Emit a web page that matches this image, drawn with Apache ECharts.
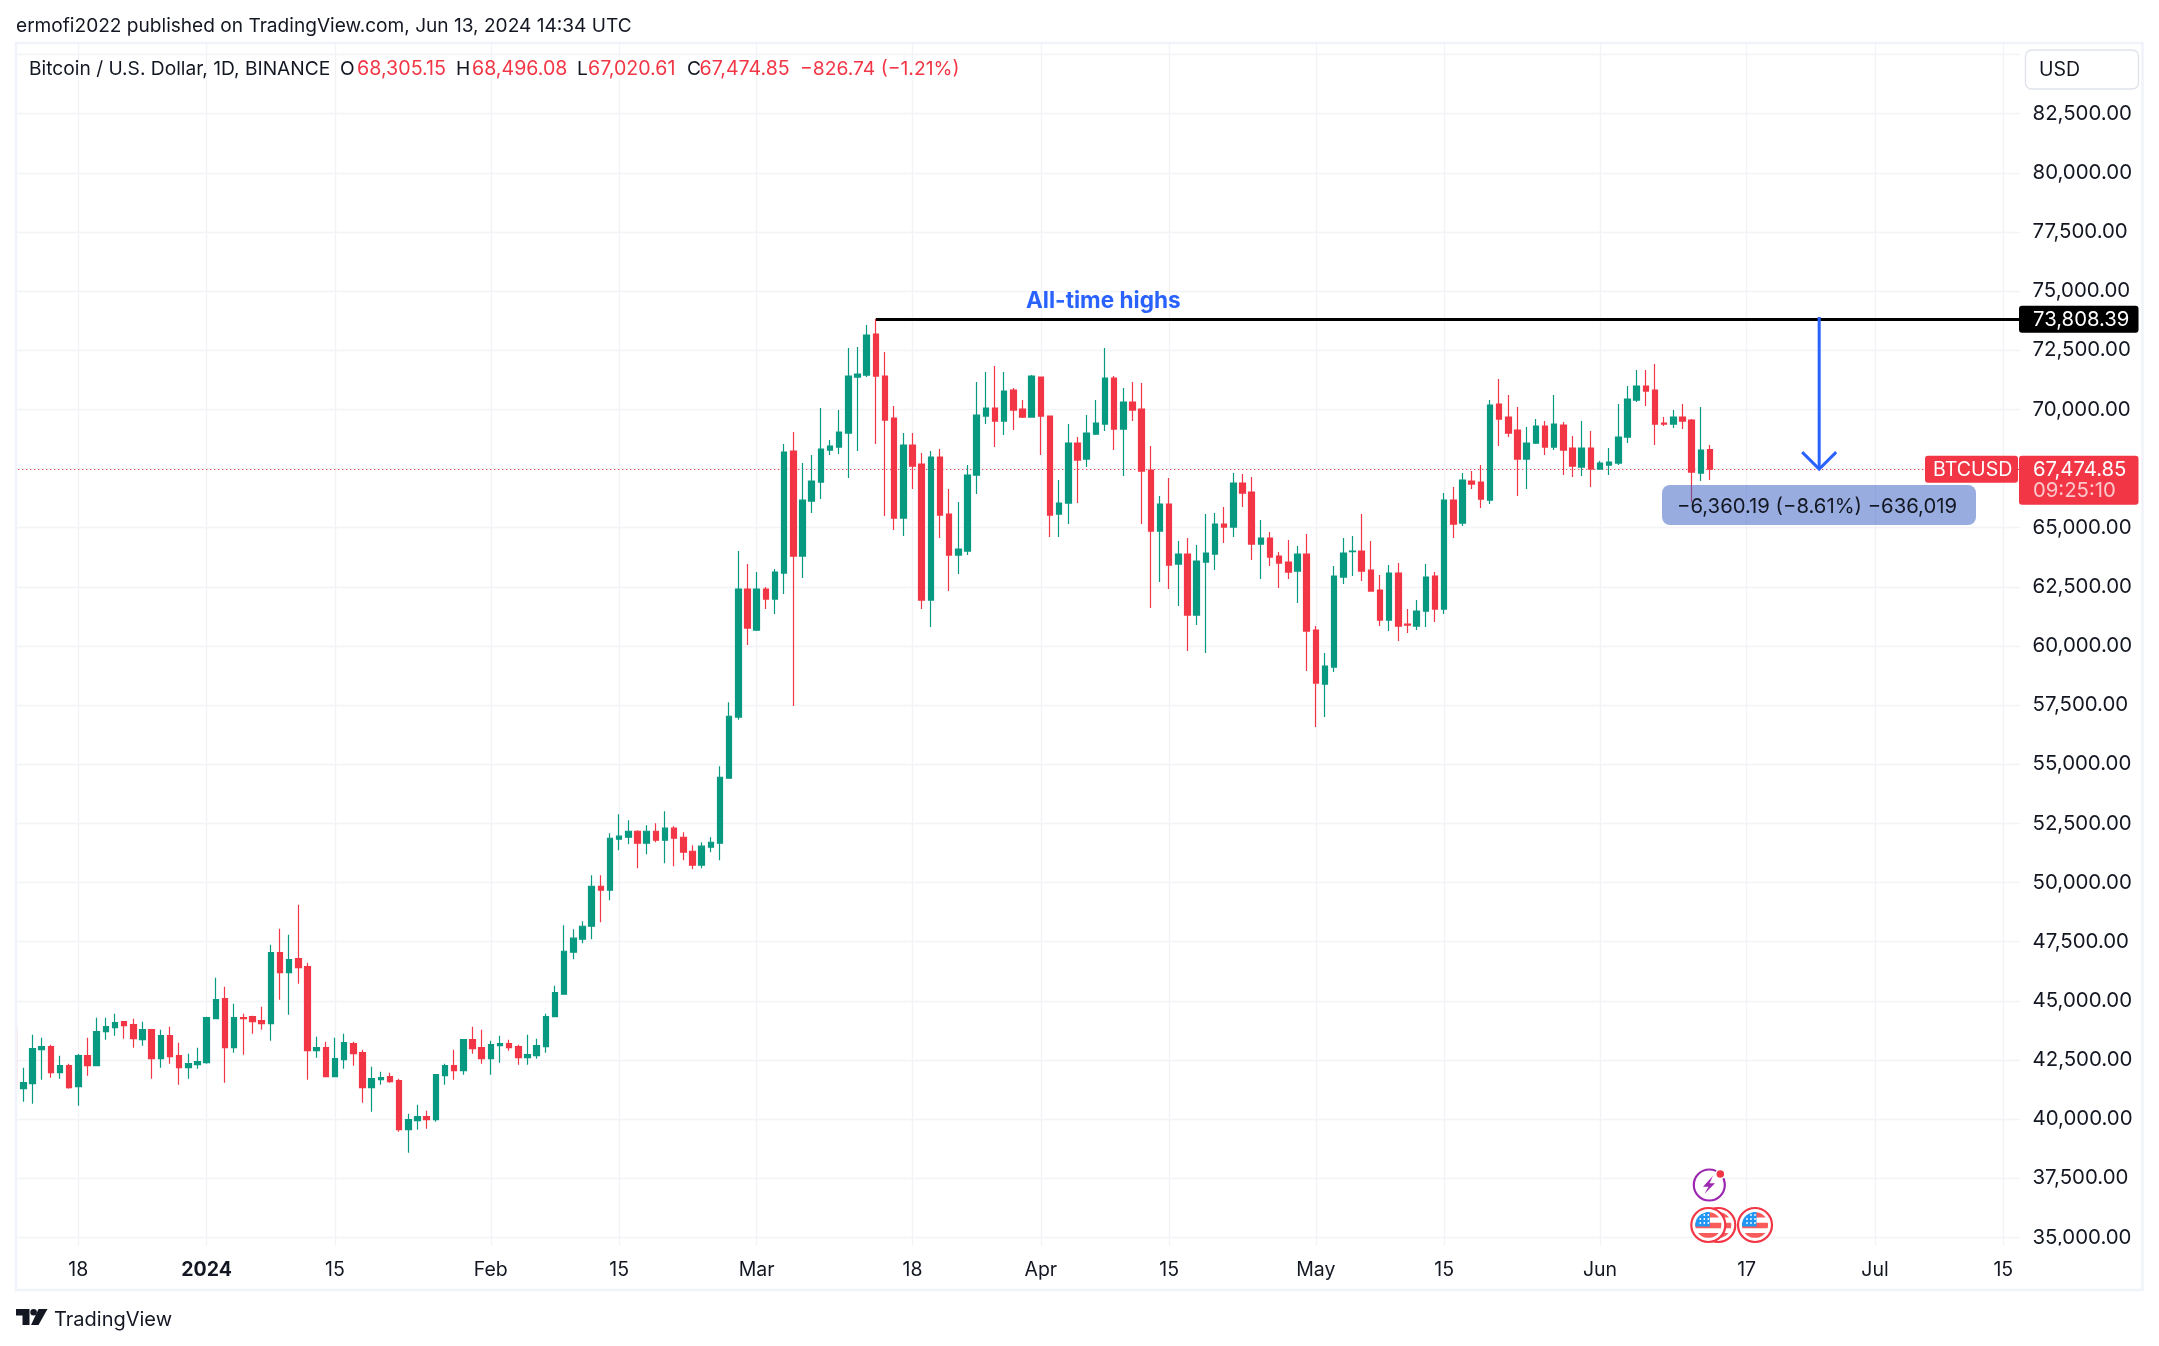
<!DOCTYPE html>
<html><head><meta charset="utf-8">
<script src="https://cdn.jsdelivr.net/npm/echarts@6/dist/echarts.min.js"></script>
<style>html,body{margin:0;padding:0;background:#fff}#c{width:2159px;height:1346px}</style></head>
<body><div id="c"></div>
<script>
const firstDay = '2023-12-11';
const dayCount = 220;
const opens = [
 43867,41288,41500,42937,43064,41965,42260,41373,42683,42260,43698,43867,44120,43994,43359,43782,42556,43529,42683,42176,42303,
 42387,44247,45093,43021,44289,44332,44163,44036,47037,46192,46783,46445,42895,43021,41796,42514,43190,42810,41331,41669,41796,41626,39555,39936,40105,39978,41838,42260,42049,43359,43021,
 42556,43106,43190,43064,42599,42683,43064,44332,45280,47055,47605,48154,49845,49676,51832,51916,52170,51663,52170,51789,52297,51916,51324,50733,51494,51663,54410,56995,62405,
 60672,62405,61983,63082,68239,63800,66125,66928,68281,68408,69000,71367,71451,73184,71409,69634,65407,68492,67689,61940,67985,65576,63843,64012,67224,69718,70056,69507,70817,70014,69676,
 71367,69718,65576,66041,68577,67900,68957,69380,71324,69169,70310,70014,67436,64857,65998,63462,63885,61307,63547,63885,65153,65026,66886,66506,64308,64561,63800,63547,63166,63885,
 60672,58390,59108,62913,63984,64012,63209,62363,61095,63082,60926,60842,61476,62955,61560,66168,65195,66971,66928,66168,70225,69676,69126,67900,68577,69296,68408,69338,68366,67562,68366,
 67478,67647,67731,68830,70395,70986,70817,69422,69380,69676,69549,67309,68305.15];
const highs = [
 43900,42176,43571,43444,43148,42683,42345,42768,43444,44289,44289,44459,44130,44247,44120,43790,43782,43909,43233,42768,43021,
 44332,45980,45600,44881,44459,44374,44754,47375,48051,47798,49066,46614,43486,43275,43444,43613,43275,42937,42218,42007,41965,41711,40232,40612,40358,41880,42345,42937,43359,43909,43782,
 43317,43529,43359,43148,43571,43402,44459,45642,48196,48027,48366,50310,50310,52085,52888,52635,52212,52424,52508,53015,52381,52128,51578,51705,51916,54917,57623,64012,63462,
 63124,62490,63251,68535,69042,67732,68070,70056,68704,69972,72593,72635,73565,73818,72424,70141,69000,69000,68154,68239,68323,66632,66083,67647,71155,71578,71832,71578,70902,70395,71451,
 71370,69730,67013,69380,68830,69760,70395,72593,71409,70902,71155,71113,68450,66337,67097,64434,64561,64265,65576,65618,65872,67309,67267,67140,65322,64815,63970,64477,64223,64730,
 60842,59700,63378,64561,64646,65576,64434,62997,63420,63504,61560,61940,63462,63124,66463,66717,67309,67393,67647,70395,71282,70606,70099,69253,69591,69507,70606,69465,68873,69507,69084,
 67816,68366,70225,70986,71663,71663,71916,69676,69972,70225,69591,70099,68496.08];
const lows = [
 41280,40739,40654,41669,41753,41711,41288,40570,41838,42240,43359,43529,43402,43021,43106,41711,42176,42345,41457,41711,42134,
 42345,44240,41542,42810,42725,43613,43782,43317,45050,44416,45727,41669,42599,41780,41780,42134,42260,40696,40316,41457,41542,39471,38583,39555,39597,39893,41457,41669,41880,42768,42345,
 41880,42387,42895,42303,42303,42556,42810,44320,45270,46759,47436,47605,48323,49253,51367,51620,50606,51198,51705,50817,50690,50944,50564,50606,51282,50944,54400,56880,60038,
 60630,61560,61349,62194,57460,62870,65618,66210,68070,68112,67097,68239,71367,68535,65491,64899,64646,66632,61560,60799,64561,62321,63040,63843,66421,69380,68408,68915,69126,69634,69670,
 68070,64603,64603,65153,66041,67562,68915,69084,68281,67182,69507,65153,61602,62701,62405,61687,59785,60884,59700,63209,64350,64603,65872,63631,62828,63378,62448,62828,61814,58939,
 56572,56995,58897,62617,62955,62744,62300,60842,60630,60207,60546,60672,60799,61011,61349,64561,65069,66632,65829,65998,68450,68830,66337,66632,68535,68070,68281,67224,67140,67182,66717,
 67470,67224,67647,68577,70310,70141,68492,69296,69211,69169,66083,66971,67020.61];
const closes = [
 41302,41542,42979,43064,41965,42260,41331,42683,42260,43698,43909,44078,43951,43402,43782,42556,43529,42641,42176,42345,42430,
 44289,45050,43021,44289,44247,44120,44036,47037,46192,46741,46403,42895,43021,41796,42556,43233,42768,41331,41711,41753,41584,39555,39978,40105,39978,41880,42260,42049,43359,42979,42556,
 43148,43190,43021,42599,42725,43106,44332,45346,47097,47647,48154,49845,49676,51874,51959,52170,51663,52170,51789,52297,51874,51282,50733,51536,51705,54452,57031,62405,60757,
 62405,61983,63124,68196,63800,66168,66971,68323,68450,69042,71409,71494,73142,71409,69549,65407,68492,67605,61940,67985,65533,63843,64096,67224,69760,70056,69507,70775,69972,69676,71409,
 69718,65533,66041,68577,67858,69000,69422,71324,69169,70310,69972,67393,64857,65998,63420,63885,61307,63589,63927,65153,65026,66886,66463,64308,64561,63758,63504,63124,63885,60630,
 58432,59151,62955,63927,64012,63166,62321,61095,63082,60842,60884,61476,62913,61560,66168,65153,67013,66844,66210,70183,69591,69000,67900,68577,69296,68408,69380,68281,67605,68366,67478,
 67731,67774,68830,70437,70986,70775,69380,69380,69676,69507,67351,68281,67474.85];
const tickDates = ['2023-12-18','2024-01-01','2024-01-15','2024-02-01','2024-02-15','2024-03-01','2024-03-18','2024-04-01','2024-04-15','2024-05-01','2024-05-15','2024-06-01','2024-06-17','2024-07-01','2024-07-15'];
const tickLabels = ['18','2024','15','Feb','15','Mar','18','Apr','15','May','15','Jun','17','Jul','15'];
const athPrice = 73808.39, lastPrice = 67474.85;
const athDate = '2024-03-14', arrowDate = '2024-06-25', arrowTopPrice = 73907;
const hiddenPriceLabels = [32500, 67500, 85000, 87500];

const UP='#089981', DOWN='#F23645', INK='#131722', GRID='#f2f3f7', BLUE='#2962FF', FONT='Inter';
const categories=[];
{ const t0=Date.UTC(2023,11,11); for(let i=0;i<dayCount;i++) categories.push(new Date(t0+i*864e5).toISOString().slice(0,10)); }
const candleData = opens.map((o,i)=>[o,closes[i],lows[i],highs[i]]);
const tickLabelOf = Object.fromEntries(tickDates.map((d,i)=>[d,tickLabels[i]]));
const isTick = (i,v)=> tickLabelOf[v]!==undefined;
const fmt = v=>v.toLocaleString('en-US',{minimumFractionDigits:2,maximumFractionDigits:2});

const chart = echarts.init(document.getElementById('c'),null,{renderer:'canvas'});
chart.setOption({
  animation:false, backgroundColor:'#fff',
  textStyle:{fontFamily:FONT,color:INK},
  grid:{left:9.53,width:2016.7,top:-4.54,height:1301.08,containLabel:false,outerBoundsMode:'none'},
  xAxis:[
   {type:'category',data:categories,boundaryGap:true,axisLine:{show:false},axisTick:{show:false},axisLabel:{show:false},
    splitLine:{show:true,alignWithLabel:true,interval:isTick,lineStyle:{color:GRID,width:1.4}},z:0},
   {type:'category',data:categories,boundaryGap:true,position:'bottom',offset:-51.5,z:10,axisLine:{show:false},axisTick:{show:false},splitLine:{show:false},
    axisLabel:{show:true,interval:isTick,margin:15.2,fontSize:19.5,fontFamily:FONT,color:INK,hideOverlap:false,
      formatter:v=>{const s=tickLabelOf[v]; if(s===undefined) return ''; return s==='2024'?'{b|'+s+'}':s;},
      rich:{b:{fontWeight:'bold',fontSize:19.5,fontFamily:FONT,color:INK}}}}
  ],
  yAxis:{type:'value',position:'right',min:32500,max:87500,interval:2500,
    axisLine:{show:false},axisTick:{show:false},
    splitLine:{show:true,lineStyle:{color:GRID,width:1.4}},
    axisLabel:{margin:6.3,fontSize:20.4,fontFamily:FONT,color:INK,formatter:v=>hiddenPriceLabels.includes(v)?'':fmt(v)}},
  series:[{
    type:'candlestick',name:'BTCUSD',data:candleData,xAxisIndex:0,yAxisIndex:0,barWidth:6,z:2,
    itemStyle:{color:UP,color0:DOWN,borderColor:UP,borderColor0:DOWN,borderWidth:1.2},
    markLine:{silent:true,z:1,symbol:'none',label:{show:false},animation:false,
      data:[
        [{coord:[athDate,athPrice],lineStyle:{color:'#000',width:3,type:'solid'}},{coord:[categories[dayCount-1],athPrice]}],
        [{coord:[categories[0],lastPrice],lineStyle:{color:DOWN,width:1.2,type:[1.2,2.8]}},{coord:[categories[dayCount-1],lastPrice]}]
      ]}
  }]
});

function T(x,y,text,o={}){return {type:'text',z:o.z||20,silent:true,style:{x,y,text,fill:o.fill||INK,font:(o.weight?o.weight+' ':'')+(o.size||20.3)+'px '+FONT,align:o.align||'left',verticalAlign:'middle'}};}
function R(x,y,w,h,fill,r,o={}){return {type:'rect',z:o.z||15,silent:true,shape:{x,y,width:w,height:h,r:r||0},style:{fill,stroke:o.stroke,lineWidth:o.lw}};}
function C(cx,cy,r,fill,stroke,lw,z){return {type:'circle',z:z||18,silent:true,shape:{cx,cy,r},style:{fill,stroke,lineWidth:lw}};}
function G(points,fill,z){return {type:'polygon',z:z||19,silent:true,shape:{points},style:{fill}};}
function stripe(cx,cy,r,y1,y2,xmin){
  const xa=y=>Math.sqrt(Math.max(0,r*r-y*y));
  const pts=[]; const n=8;
  for(let i=0;i<=n;i++){const y=y1+(y2-y1)*i/n; pts.push([cx+xa(y),cy+y]);}
  for(let i=n;i>=0;i--){const y=y1+(y2-y1)*i/n; pts.push([cx+(xmin!==undefined?Math.max(-xa(y),xmin):-xa(y)),cy+y]);}
  return pts;
}
function flag(cx,cy,z){
  const r=13, out=[C(cx,cy,17,'#fff',DOWN,2.2,z)];
  out.push(G(stripe(cx,cy,r,-12.5,-7.5,0),'#F95A5A',z+1));
  out.push(G(stripe(cx,cy,r,-2.2,3.2),'#F95A5A',z+1));
  out.push(G(stripe(cx,cy,r,8,12.8),'#F95A5A',z+1));
  out.push(G(stripe(cx,cy,r,-12.9,1.5).map(p=>[Math.min(p[0],cx+1.5),p[1]]),'#2196F3',z+2));
  for(const [dx,dy] of [[-8,-2],[-4,-2],[0,-2],[-8,-6],[-4,-6],[0,-6],[-4,-10],[0,-10]])
    out.push(C(cx+dx,cy+dy,0.9,'#fff',null,0,z+3));
  return out;
}

const px = (d,v)=>chart.convertToPixel({xAxisIndex:0,yAxisIndex:0},[d,v]);
const a0 = px(arrowDate,arrowTopPrice), a1 = px(arrowDate,lastPrice);
const ath = px(athDate,athPrice), last = px(athDate,lastPrice);
const ax = a1[0]-0.8;

const els = [
  R(0,0,15.5,1346,'#fff',0,{z:3}), R(0,0,2159,43,'#fff',0,{z:3}), R(0,1245.5,2159,101,'#fff',0,{z:3}), R(2019.5,0,9,1346,'#fff',0,{z:3}),
  {type:'rect',z:4,silent:true,shape:{x:16,y:43,width:2126.5,height:1247},style:{fill:'none',stroke:'#f0f3fa',lineWidth:2.4}},
  T(16,26.3,'ermofi2022 published on TradingView.com, Jun 13, 2024 14:34 UTC',{size:19.1}),
  T(29,69.3,'Bitcoin / U.S. Dollar, 1D, BINANCE',{size:19.2}),
  T(340,69.3,'O',{size:19.2}),T(357,69.3,'68,305.15',{size:19.7,fill:DOWN}),
  T(456,69.3,'H',{size:19.2}),T(472,69.3,'68,496.08',{size:19.6,fill:DOWN}),
  T(577,69.3,'L',{size:19.2}),T(588,69.3,'67,020.61',{size:19.6,fill:DOWN}),
  T(687,69.3,'C',{size:19.2}),T(699.5,69.3,'67,474.85',{size:19.6,fill:DOWN}),
  T(800,69.3,'\u2212826.74 (\u22121.21%)',{size:19.3,fill:DOWN}),
  R(2025.5,50,113,39,'#fff',6,{stroke:'#e0e3eb',lw:1.4,z:15}), T(2039,70,'USD',{size:19.5}),
  T(1026,301,'All-time highs',{size:22.6,weight:'bold',fill:BLUE}),
  {type:'polyline',z:16,silent:true,shape:{points:[[ax,a0[1]],[ax,a1[1]]]},style:{stroke:BLUE,lineWidth:3,fill:'none'}},
  {type:'polyline',z:16,silent:true,shape:{points:[[ax-17,a1[1]-17],[ax,a1[1]],[ax+17,a1[1]-17]]},style:{stroke:BLUE,lineWidth:3,fill:'none'}},
  R(1662,485,314,40,'rgba(50,90,193,0.5)',8,{z:16}),
  T(1677,506.5,'\u22126,360.19 (\u22128.61%) \u2212636,019',{z:17}),
  R(2019,ath[1]-13.5,119.5,27,'#000',3,{z:15}), T(2033,ath[1]+0.5,fmt(athPrice),{fill:'#fff'}),
  R(1925,last[1]-13.5,93,27,DOWN,3,{z:15}), T(1933,last[1]+0.8,'BTCUSD',{fill:'#fff',size:19.6}),
  R(2019,last[1]-13.5,119.5,49,DOWN,3,{z:15}), T(2033,last[1]+0.5,fmt(lastPrice),{fill:'#fff'}),
  T(2033,last[1]+21.5,'09:25:10',{fill:'rgba(255,255,255,0.72)'}),
  C(1709.3,1185,15.5,'#fff','#9C27B0',2.2,18),
  G([[1713,1175.7],[1703,1186.7],[1708.5,1186.7],[1704.5,1193.7],[1715,1183.2],[1709.5,1183.2]],'#9C27B0',19),
  C(1720.3,1174,4.5,DOWN,'#fff',1.5,20),
  ...flag(1718.3,1225,18), ...flag(1708.3,1225,22), ...flag(1755,1225,18),
  G([[16,1309],[29.5,1309],[29.5,1325],[22.5,1325],[22.5,1315.5],[16,1315.5]],INK,20),
  G([[38.5,1325],[31,1325],[38.5,1309],[47.5,1309]],INK,20),
  C(33.6,1312.3,3.3,INK,null,0,20),
  T(54,1319.5,'TradingView',{size:20,fill:INK})
];
chart.setOption({graphic:{elements:els}});
</script></body></html>
